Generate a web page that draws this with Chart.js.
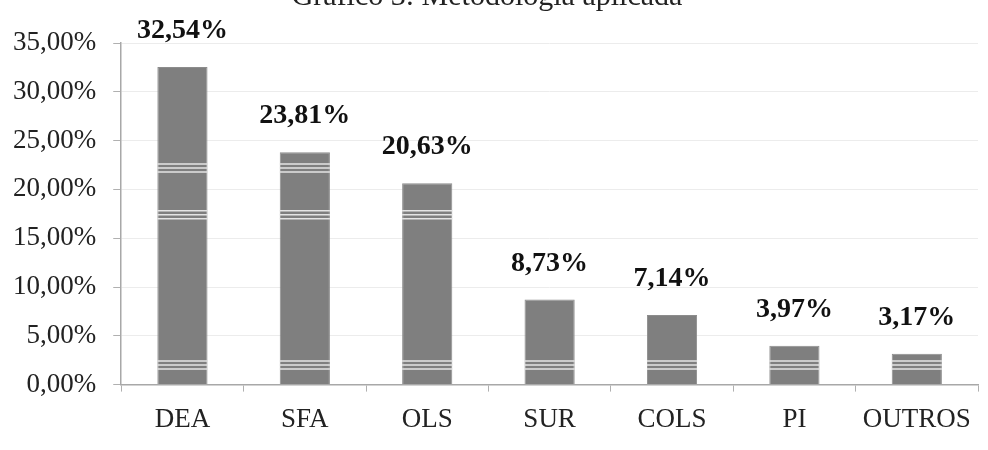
<!DOCTYPE html>
<html>
<head>
<meta charset="utf-8">
<script src="https://cdn.jsdelivr.net/npm/chart.js@4.4.0/dist/chart.umd.min.js"></script>
<style>
  body { margin: 0; background: #fff; }
  #wrap { width: 988px; height: 450px; }
</style>
</head>
<body>
<div id="wrap"><canvas id="chart1" width="988" height="450"></canvas></div>
<script>
// data
var categorias = ['DEA', 'SFA', 'OLS', 'SUR', 'COLS', 'PI', 'OUTROS'];
var percentuais = [32.54, 23.81, 20.63, 8.73, 7.14, 3.97, 3.17];
var yTicks = [0, 5, 10, 15, 20, 25, 30, 35];
var titulo = 'Gráfico 3: Metodologia aplicada';

// the white scan stripes that cross the bars (values on the y axis)
var faixas = [2.0, 17.4, 22.2];

function formatPct(v) {
    return v.toFixed(2).replace('.', ',') + '%';
}

// labels on top of each bar
var rotulosPlugin = {
    id: 'rotulos',
    afterDatasetsDraw: function (chart) {
        var ctx = chart.ctx;
        var meta = chart.getDatasetMeta(0);
        ctx.save();
        ctx.font = 'bold 28px "Liberation Serif", "Times New Roman", serif';
        ctx.fillStyle = '#111';
        ctx.textAlign = 'center';
        ctx.textBaseline = 'middle';
        meta.data.forEach(function (bar, i) {
            ctx.fillText(formatPct(percentuais[i]), bar.x, bar.y - 36);
        });
        ctx.restore();
    }
};

// stripes inside the bars
var faixasPlugin = {
    id: 'faixas',
    afterDatasetsDraw: function (chart) {
        var ctx = chart.ctx;
        var y = chart.scales.y;
        var meta = chart.getDatasetMeta(0);
        ctx.save();
        ctx.strokeStyle = '#e4e4e4';
        ctx.lineWidth = 1.5;
        meta.data.forEach(function (bar, i) {
            var left = bar.x - bar.width / 2;
            var right = bar.x + bar.width / 2;
            faixas.forEach(function (f) {
                if (f + 0.6 > percentuais[i]) return;
                var py = y.getPixelForValue(f);
                [-4, 0, 4].forEach(function (d) {
                    ctx.beginPath();
                    ctx.moveTo(left, py + d);
                    ctx.lineTo(right, py + d);
                    ctx.stroke();
                });
            });
        });
        ctx.restore();
    }
};

var serif = '"Liberation Serif", "Times New Roman", serif';

var ctx = document.getElementById('chart1').getContext('2d');
var myChart = new Chart(ctx, {
    type: 'bar',
    data: {
        labels: categorias,
        datasets: [{
            data: percentuais,
            backgroundColor: '#7f7f7f',
            borderColor: '#8c8c8c',
            borderWidth: 1,
            barPercentage: 0.82,
            categoryPercentage: 0.5
        }]
    },
    options: {
        responsive: false,
        animation: false,
        devicePixelRatio: 1,
        layout: {
            padding: { left: -4, right: 10, bottom: 2, top: 0 }
        },
        plugins: {
            legend: { display: false },
            tooltip: { enabled: false },
            title: {
                display: true,
                text: titulo,
                color: '#222',
                font: { family: serif, size: 30, weight: 'normal' },
                padding: { top: -21, bottom: 28 }
            }
        },
        scales: {
            x: {
                grid: {
                    drawOnChartArea: false,
                    tickLength: 7,
                    tickColor: '#b0b0b0'
                },
                border: { color: '#a8a8a8', width: 1.5 },
                ticks: {
                    color: '#222',
                    padding: 12,
                    font: { family: serif, size: 27 }
                }
            },
            y: {
                min: 0,
                max: 35,
                afterBuildTicks: function (axis) {
                    axis.ticks = yTicks.map(function (v) { return { value: v }; });
                },
                grid: {
                    color: '#ececec',
                    tickColor: '#b0b0b0',
                    tickLength: 8
                },
                border: { color: '#a8a8a8', width: 1.5 },
                ticks: {
                    color: '#222',
                    padding: 17,
                    font: { family: serif, size: 27 },
                    callback: function (v) { return formatPct(v); }
                }
            }
        }
    },
    plugins: [faixasPlugin, rotulosPlugin]
});
</script>
</body>
</html>
